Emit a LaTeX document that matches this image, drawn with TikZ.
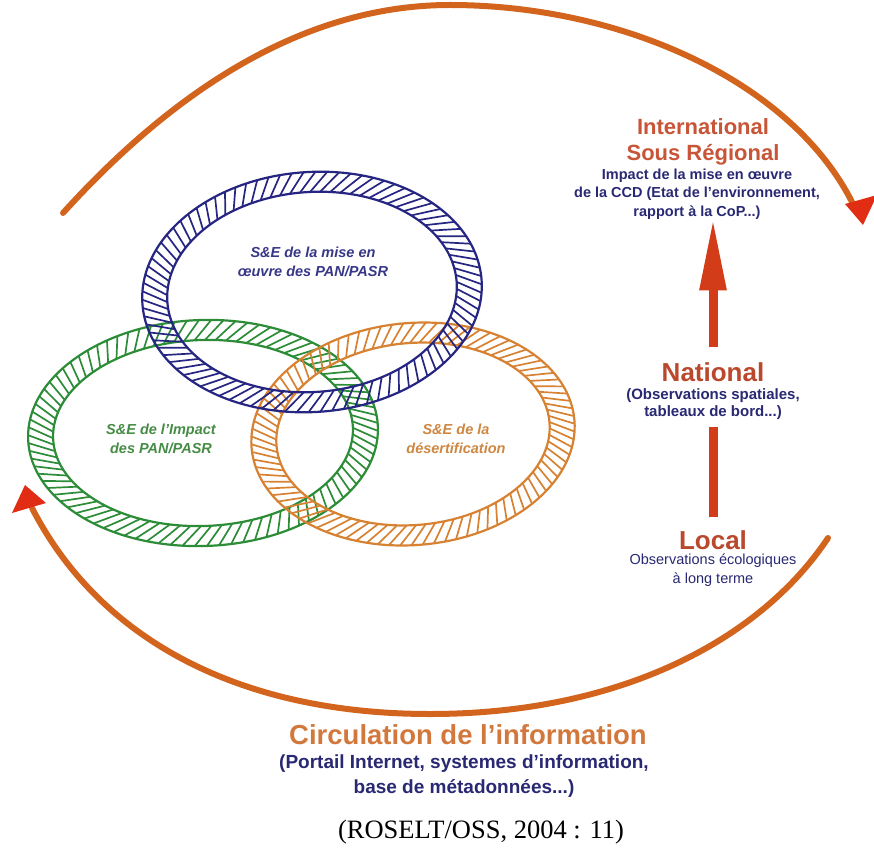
\documentclass[tikz,border=0pt]{standalone}
\usepackage{fontspec}
\setmainfont{Liberation Sans}
\newfontfamily\citefont{Liberation Serif}
\usetikzlibrary{arrows.meta}

\definecolor{ringblue}{RGB}{38,38,130}
\definecolor{ringgreen}{RGB}{45,140,55}
\definecolor{ringorange}{RGB}{215,130,50}
\definecolor{txtblue}{RGB}{55,55,135}
\definecolor{txtgreen}{RGB}{70,140,70}
\definecolor{txtorange}{RGB}{205,135,65}
\definecolor{titlered}{RGB}{200,85,55}
\definecolor{natred}{RGB}{185,72,45}
\definecolor{navytxt}{RGB}{40,40,115}
\definecolor{circor}{RGB}{210,120,60}
\definecolor{arcor}{RGB}{210,100,30}
\definecolor{headred}{RGB}{225,45,20}
\definecolor{shaftred}{RGB}{210,60,25}

\newcommand\hatchring[8]{%
  \begin{scope}[shift={(#1,#2)},rotate=#7,#8]
    \draw[ringline] (0,0) ellipse [x radius=#3, y radius=#4];
    \draw[ringline] (0,0) ellipse [x radius=#5, y radius=#6];
    \foreach \t [evaluate=\t as \u using \t+6] in {0,4,...,356}
      \draw[stripe] (\t:#5 and #6) -- (\u:#3 and #4);
  \end{scope}}

\tikzset{
  ringline/.style={line width=2.2pt},
  stripe/.style={line width=1.7pt},
  arcline/.style={draw=arcor, line width=6pt, line cap=round},
  shaft/.style={draw=shaftred, line width=9pt},
  ringtext/.style={font=\fontsize{14.5}{19}\selectfont\bfseries\itshape, align=center, inner sep=0pt},
  bigtitle/.style={font=\fontsize{22}{26}\selectfont\bfseries, text=titlered, align=center, inner sep=0pt},
  leveltitle/.style={font=\fontsize{26}{30}\selectfont\bfseries, text=natred, inner sep=0pt},
  subtext/.style={font=\fontsize{14.5}{18.5}\selectfont\bfseries, text=navytxt, align=center, inner sep=0pt},
}

\begin{document}
\begin{tikzpicture}[x=1pt,y=-1pt]
\useasboundingbox (0,0) rectangle (874,850);

% hatched rings
\hatchring{203}{433}{175}{113}{150}{93}{2}{ringgreen}
\hatchring{413}{434}{162}{111}{137}{91}{5}{ringorange}
\hatchring{312}{292}{170}{120}{145}{100}{4}{ringblue}

\node[ringtext, text=txtblue] (blue) at (313,262) {S\&E de la mise en\\œuvre des PAN/PASR};
\node[ringtext, text=txtgreen] (green) at (161,439) {S\&E de l'Impact\\des PAN/PASR};
\node[ringtext, text=txtorange] (orange) at (456,439) {S\&E de la\\désertification};

% circulation arcs
\coordinate (tl) at (63,213);
\coordinate (tt) at (450,5);
\coordinate (tr) at (852,202);
\draw[arcline] (tl) .. controls (170,95) and (300,5) .. (tt) .. controls (620,5) and (790,80) .. (tr);
\fill[headred] (845,204) -- (877,195) -- (863,225) -- cycle;

\coordinate (br) at (828,538);
\coordinate (bb) at (430,714);
\coordinate (bl) at (32,508);
\draw[arcline] (br) .. controls (760,640) and (620,714) .. (bb) .. controls (240,714) and (100,640) .. (bl);
\fill[headred] (12,513) -- (25,485) -- (46,503) -- cycle;

% levels
\node[bigtitle] (intl) at (703,142) {International\\Sous Régional};
\node[subtext] (ccd) at (697,194) {Impact de la mise en œuvre\\de la CCD (Etat de l'environnement,\\rapport à la CoP...)};
\node[leveltitle] (national) at (713,372) {National};
\node[subtext, font=\fontsize{15}{16.5}\selectfont\bfseries] (natsub) at (713,404) {(Observations spatiales,\\tableaux de bord...)};
\node[leveltitle] (local) at (713,540) {Local};
\node[subtext, font=\fontsize{14.5}{18.5}\selectfont] (locsub) at (713,570) {Observations écologiques\\à long terme};

\draw[shaft, shorten <=13pt, shorten >=8pt] (local.north) -- (local.north |- natsub.south);
\draw[shaft, -{Triangle[length=72pt,width=25pt]}, shorten <=15pt, shorten >=-1pt] (national.north) -- (national.north |- ccd.south);

% bottom texts
\node[font=\fontsize{27.5}{30}\selectfont\bfseries, text=circor, inner sep=0pt] (circ) at (468,735) {Circulation de l’information};
\node[subtext, font=\fontsize{19}{25}\selectfont\bfseries] (circsub) at (464,776) {(Portail Internet, systemes d’information,\\base de métadonnées...)};
\node[font=\fontsize{26.5}{30}\selectfont\citefont, inner sep=0pt] (cite) at (481,832) {(ROSELT/OSS, 2004 : 11)};
\end{tikzpicture}
\end{document}
